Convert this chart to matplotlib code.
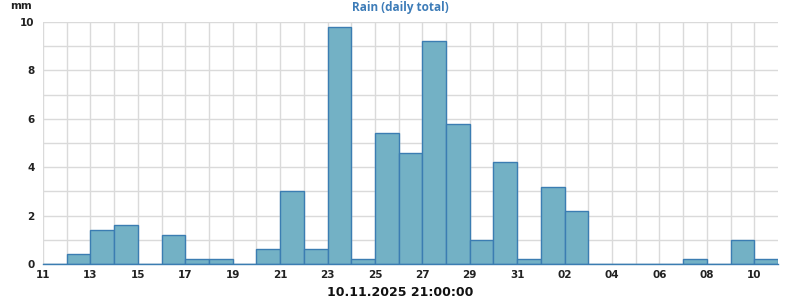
import pandas as pd
import matplotlib
matplotlib.use("Agg")
import matplotlib.pyplot as plt
import matplotlib.dates as mdates

# Daily rain totals (mm), 11.10.2025 .. 10.11.2025
days = pd.date_range("2025-10-11", "2025-11-10", freq="D")
rain = [0.0, 0.4, 1.4, 1.6, 0.0, 1.2, 0.2, 0.2, 0.0, 0.6,
        3.0, 0.6, 9.8, 0.2, 5.4, 4.6, 9.2, 5.8, 1.0, 4.2,
        0.2, 3.2, 2.2, 0.0, 0.0, 0.0, 0.0, 0.2, 0.0, 1.0,
        0.2]
y_ticks = [0, 2, 4, 6, 8, 10]
title = "Rain (daily total)"
unit = "mm"
stamp = "10.11.2025 21:00:00"

fig = plt.figure(figsize=(8, 3), dpi=100)
ax = fig.add_axes([43 / 800, 36 / 300, 735 / 800, 242 / 300])

ax.bar(days, rain, width=1, align="edge", color="#73b1c5",
       edgecolor="#3b7db2", linewidth=1.0, zorder=3)

ax.set_xlim(days[0], days[-1] + pd.Timedelta(days=1))
ax.set_ylim(0, 10)

# labelled ticks every 2 days / every 2 mm, grid every day / every mm
ax.set_xticks(days[::2])
ax.xaxis.set_major_formatter(mdates.DateFormatter("%d"))
ax.set_xticks(days, minor=True)
ax.set_yticks(y_ticks)
ax.set_yticks(range(0, 11), minor=True)

ax.grid(True, which="both", color="#dadada", linewidth=1.0, zorder=0)
for s in ax.spines.values():
    s.set_visible(False)
# baseline shows in the bar edge colour (zero days too)
ax.spines["bottom"].set_visible(True)
ax.spines["bottom"].set_color("#3b7db2")
ax.spines["bottom"].set_linewidth(1.0)
ax.spines["bottom"].set_zorder(4)
ax.tick_params(which="both", length=0)
ax.tick_params(axis="x", pad=4)
ax.tick_params(axis="y", pad=6)
for lab in ax.get_xticklabels() + ax.get_yticklabels():
    lab.set_fontsize(7.5)
    lab.set_fontweight("bold")
    lab.set_color("#222222")

fig.text(400 / 800, 1 - 7 / 300, title, ha="center", va="center",
         fontsize=8.5, fontweight="bold", color="#3d7cb8", family="Open Sans")
fig.text(10 / 800, 1 - 6 / 300, unit, ha="left", va="center",
         fontsize=7.5, fontweight="bold", color="#222222")
fig.text(400 / 800, 1 - 292 / 300, stamp, ha="center", va="center",
         fontsize=9, fontweight="bold", color="#111111")

fig.savefig("out.png", dpi=100)
